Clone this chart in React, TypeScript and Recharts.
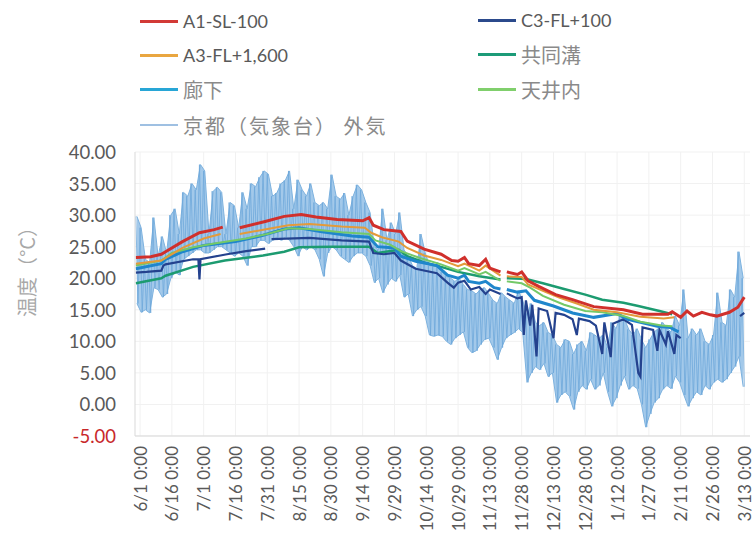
import React from 'react';
import { ComposedChart, Line, Area, XAxis, YAxis, CartesianGrid } from 'recharts';

// ---- axis ticks ----
const X_TICK_DAYS = [0, 15, 30, 45, 60, 75, 90, 105, 120, 135, 150, 165, 180, 195, 210, 225, 240, 255, 270, 285];
const X_TICK_LABELS = [
  '6/1 0:00', '6/16 0:00', '7/1 0:00', '7/16 0:00', '7/31 0:00', '8/15 0:00', '8/30 0:00',
  '9/14 0:00', '9/29 0:00', '10/14 0:00', '10/29 0:00', '11/13 0:00', '11/28 0:00',
  '12/13 0:00', '12/28 0:00', '1/12 0:00', '1/27 0:00', '2/11 0:00', '2/26 0:00', '3/13 0:00',
];
const Y_TICKS = [-5, 0, 5, 10, 15, 20, 25, 30, 35, 40];

// ---- outdoor (京都気象台) daily high / low, one pair every 2 days from day -2 ----
const OUT_START = -2;
const OUT_STEP = 2;
const OUT_HIGH = [
  29.8, 28, 23, 22.5, 29.6, 23.5, 26.6, 24, 30, 31,
  27, 33.6, 33, 35, 34, 38, 37, 27, 33.8, 34.4,
  33.6, 27, 32, 31.5, 28, 33.6, 31, 35, 34.5, 36,
  37, 36.5, 33, 33.5, 35, 35.5, 37, 31, 35.6, 34,
  33, 35, 32, 31.5, 32, 31, 36.4, 33, 32.5, 33.5,
  30, 33, 34.8, 34, 32, 30.4, 25, 24.5, 31, 26,
  28.8, 27, 30.4, 24.5, 23.5, 22, 21.5, 27, 24, 22,
  21.9, 22.5, 21, 20.3, 20, 19.5, 20, 19, 18.2, 18,
  17.5, 18.2, 18.5, 17.5, 16.5, 16, 17.7, 17, 16.5, 16,
  18, 16.5, 14, 16, 13, 12.5, 13, 11.4, 11, 9.5,
  9, 10.3, 10, 8, 9.5, 10, 8.5, 11.4, 11, 10.5,
  11, 9, 13, 12, 14, 13.5, 11.9, 11, 12, 10.3,
  9, 10.3, 11.5, 12, 13, 12, 11.5, 14, 12.5, 18.2,
  10.5, 12, 11, 12, 10, 9.5, 11, 17.7, 13, 12.5,
  18.2, 17, 24.2, 20,
];
const OUT_LOW = [
  16, 14.6, 15, 14.5, 18.5, 18.2, 17, 17.5, 20, 21,
  20.5, 23, 23.5, 24, 24.5, 24.5, 24, 24, 24.5, 25,
  25, 24.5, 24, 23.5, 24, 23.5, 22, 25, 25, 26,
  26, 25.5, 26, 26.5, 26, 26.5, 26, 25, 23.5, 25,
  24.5, 25, 24.5, 23, 20.3, 24, 25, 24.5, 23.5, 23,
  22.5, 23.5, 24, 24, 23.5, 22, 19.3, 20, 17.7, 19,
  20, 19.5, 20.5, 17, 17.5, 14, 15, 15.5, 14, 11,
  10.8, 11, 10.8, 10, 9.5, 10.5, 11, 11.5, 9, 8.2,
  8.5, 9.5, 10.3, 10.5, 9, 7.1, 9, 10.5, 11, 11.4,
  12, 11.4, 3.5, 5, 6, 5.5, 6.5, 4.4, 5, 0.3,
  1.5, 2, 1.3, -0.8, 2, 3, 2.4, 4, 2.4, 3,
  5, 2, -0.3, 1, 3, 4.5, 2.4, 3, 2.5, 0,
  -3.6, -1.5, 0.3, 1, 2.4, 3, 2.5, 4.5, 3.5, 1.5,
  -0.3, 1, 2, 1.5, 3, 2.4, 3.5, 4, 3.5, 4,
  5, 6, 7.6, 2.8,
];

// ---- indoor series: [day index from 6/1, temperature] (null = gap) ----
type Pt = [number, number | null];

const A1_SL_100: Pt[] = [
  [-2, 23.3], [5, 23.4], [10, 23.8], [12, 24.2], [20, 25.8], [28, 27.2], [35, 27.7], [39, 28.1],
  [40, null], [47, 28.0], [59, 29.0], [68, 29.8], [76, 30.1], [83, 29.7], [93, 29.3], [105, 29.1],
  [108, 29.6], [110, 28.4], [115, 27.7], [123, 27.4], [126, 25.9], [134, 24.6], [142, 23.8],
  [147, 22.8], [150, 22.7], [153, 23.3], [155, 22.3], [160, 22.0], [163, 23.0], [165, 21.6],
  [170, 21.0], [171, null], [173, 21.0], [178, 20.6], [180, 21.0], [183, 19.6], [188, 18.7],
  [196, 17.4], [204, 16.6], [214, 15.5], [228, 15.0], [237, 14.3], [249, 14.3], [251, 14.7],
  [255, 13.8], [258, 14.8], [261, 14.0], [265, 14.6], [269, 14.2], [272, 14.0], [278, 14.6],
  [282, 15.4], [285, 17.0],
];

const A3_FL_1600: Pt[] = [
  [-2, 22.3], [10, 22.8], [20, 24.8], [30, 26.3], [38, 27.0], [39, null], [47, 27.0], [60, 27.8],
  [70, 28.4], [80, 28.6], [95, 28.2], [106, 28.0], [109, 27.2], [114, 26.5], [122, 25.8],
  [126, 24.8], [134, 23.6], [142, 22.9], [150, 21.9], [153, 22.3], [160, 21.2], [163, 22.0],
  [170, 20.4], [171, null], [173, 20.3], [180, 20.2], [183, 19.0], [190, 18.0], [198, 16.9],
  [206, 16.0], [214, 15.0], [225, 14.6], [236, 13.9], [247, 13.6], [252, 13.8],
];

const KYODOKO: Pt[] = [
  [-2, 19.2], [10, 20.0], [12, 20.4], [25, 21.8], [40, 22.8], [58, 23.6], [68, 24.2], [75, 24.9],
  [90, 25.0], [108, 25.0], [112, 24.0], [122, 24.5], [126, 23.5], [134, 22.5], [142, 21.8],
  [150, 21.0], [160, 20.3], [170, 19.8], [171, null], [173, 20.0], [180, 19.9], [183, 19.8],
  [190, 19.2], [200, 18.3], [210, 17.4], [218, 16.6], [228, 16.1], [235, 15.6], [245, 14.8],
  [251, 14.3],
];

const ROKA: Pt[] = [
  [-2, 21.5], [10, 22.3], [12, 23.0], [20, 24.2], [30, 25.2], [45, 25.8], [58, 26.8], [68, 27.8],
  [75, 28.0], [85, 27.4], [100, 26.7], [108, 26.5], [112, 25.0], [120, 24.8], [123, 23.5],
  [130, 22.7], [140, 22.0], [145, 20.5], [150, 20.0], [153, 20.5], [155, 19.5], [160, 19.2],
  [163, 19.5], [167, 18.5], [170, 18.3], [171, null], [173, 18.2], [178, 17.8], [182, 18.0],
  [186, 16.5], [195, 15.6], [204, 14.5], [214, 13.8], [225, 14.4], [230, 13.5], [236, 13.0],
  [244, 12.4], [250, 12.2], [254, 11.5],
];

const TENJONAI: Pt[] = [
  [-2, 22.0], [10, 22.8], [15, 24.0], [25, 24.9], [35, 25.5], [50, 26.3], [60, 27.0], [70, 27.9],
  [80, 27.8], [95, 27.3], [108, 27.0], [111, 26.0], [118, 25.3], [123, 24.3], [132, 23.2],
  [142, 22.2], [150, 21.2], [153, 21.6], [160, 20.6], [163, 21.0], [170, 19.6], [171, null],
  [173, 19.5], [180, 19.2], [184, 18.5], [190, 17.2], [200, 15.8], [210, 14.8], [218, 14.6],
  [228, 14.0], [236, 13.1], [246, 12.5], [251, 12.4],
];

const C3_FL_100: Pt[] = [
  [-2, 20.9], [3, 21.0], [10, 21.2], [11, 22.0], [12, 22.2], [25, 23.0], [27.5, 23.0], [28, 19.8],
  [28.5, 23.0], [41, 23.8], [50, 24.3], [59, 24.7], [60, null], [62, 26.2], [80, 26.4], [95, 26.0],
  [108, 25.8], [110, 24.0], [115, 23.8], [120, 24.0], [123, 22.8], [130, 21.5], [140, 20.8],
  [145, 19.3], [148, 18.5], [150, 19.3], [153, 19.6], [156, 18.2], [160, 18.6], [163, 17.5],
  [165, 18.2], [170, 17.5], [171, null], [173, 17.6], [178, 16.8], [180, 17.0], [181, 11.0],
  [182, 16.5], [184, 12.5], [185, 15.8], [187, 7.6], [188, 15.2], [192, 14.8], [195, 10.5],
  [196, 14.5], [200, 14.2], [204, 13.5], [206, 11.0], [207, 13.6], [212, 13.2], [215, 12.5],
  [218, 8.0], [219, 13.0], [222, 7.5], [223, 12.8], [228, 13.5], [232, 12.6], [235, 5.0],
  [236, 4.4], [237, 12.2], [242, 11.8], [244, 8.5], [245, 11.8], [248, 9.5], [249, 11.6],
  [252, 8.0], [253, 11.0], [255, 10.5], [256, null], [283, 14.0], [285, 14.5],
];

const SERIES_NAMES = ['A1-SL-100', 'C3-FL+100', 'A3-FL+1,600', '共同溝', '廊下', '天井内', '京都（気象台） 外気'];
const LEGEND_COLORS = ['#d23a36', '#2b4a8c', '#e9a640', '#1c9b78', '#28a6d6', '#80cf6c', '#9fc0e2'];

const toRows = (pts: Pt[]) => pts.map(([d, v]) => ({ d, v }));
// daily range band (low..high) and a zig-zag trace through the same readings
const outdoorRange = OUT_HIGH.map((h, i) => ({ d: OUT_START + i * OUT_STEP + 0.5, range: [OUT_LOW[i], h] }));
const outdoorRows = OUT_HIGH.flatMap((h, i) => [
  { d: OUT_START + i * OUT_STEP, v: h },
  { d: OUT_START + i * OUT_STEP + 1, v: OUT_LOW[i] },
]);

const FONT = 'Lato, "Noto Sans CJK JP", sans-serif';
const CJK = '"Noto Sans CJK JP", Lato, sans-serif';

const XTick = (props: any) => {
  const { x, payload } = props;
  const idx = X_TICK_DAYS.indexOf(payload.value);
  return (
    <g transform={`translate(${x},446)`}>
      <text transform="rotate(-90)" textAnchor="end" dominantBaseline="central" fontSize={17}
        fontFamily={FONT} fill="#595959">{X_TICK_LABELS[idx]}</text>
    </g>
  );
};

const YTick = (props: any) => {
  const { x, y, payload } = props;
  const v = payload.value as number;
  return (
    <text x={x} y={y} textAnchor="end" dominantBaseline="central" fontSize={18.5}
      fontFamily={FONT} fill={v === -5 ? '#c8282a' : '#595959'}>{v.toFixed(2)}</text>
  );
};

const LEGEND_POS = [
  { x: 140, y: 21 }, { x: 478, y: 20 },
  { x: 140, y: 55 }, { x: 478, y: 54 },
  { x: 140, y: 89 }, { x: 478, y: 89 },
  { x: 140, y: 125 },
];

export default function App() {
  return (
    <div style={{ position: 'absolute', left: 0, top: 0, width: 754, height: 536, background: '#fff', overflow: 'hidden' }}>
      {SERIES_NAMES.map((name, i) => {
        const p = LEGEND_POS[i];
        const isCjk = /[^\x00-\x7f]/.test(name);
        return (
          <div key={name} style={{ position: 'absolute', left: p.x, top: p.y - 14, height: 28, display: 'flex', alignItems: 'center', whiteSpace: 'nowrap' }}>
            <div style={{ width: 38, height: i === 6 ? 2 : 3, background: LEGEND_COLORS[i], marginRight: 5 }} />
            <span style={{ fontFamily: isCjk ? CJK : FONT, fontSize: isCjk ? 20 : 18, color: isCjk ? '#8a8a8a' : '#595959', letterSpacing: i === 6 ? 2 : 0 }}>{name}</span>
          </div>
        );
      })}
      <div style={{ position: 'absolute', left: 26, top: 267, transform: 'translate(-50%,-50%) rotate(-90deg)', fontFamily: CJK, fontSize: 20, color: '#a8a8a8', whiteSpace: 'nowrap' }}>
        温度（°C）
      </div>
      <ComposedChart width={754} height={536} data={outdoorRange} margin={{ top: 152, right: 4, left: 0, bottom: 0 }}>
        <CartesianGrid stroke="#f1f1f1" verticalValues={X_TICK_DAYS} horizontalValues={Y_TICKS} />
        <XAxis type="number" dataKey="d" domain={[-2.4, 287.7]} ticks={X_TICK_DAYS} interval={0}
          allowDataOverflow tickLine={false} height={100} tick={<XTick />} stroke="#d9d9d9" />
        <YAxis type="number" domain={[-5, 40]} ticks={Y_TICKS} interval={0} width={135}
          tickLine={false} tickSize={6} tickMargin={13} tick={<YTick />} stroke="#d9d9d9" allowDataOverflow />
        <Area dataKey="range" name={SERIES_NAMES[6]} type="linear" fill="#a3c9ea" fillOpacity={1}
          stroke="#7db2df" strokeWidth={1} isAnimationActive={false} />
        <Line data={outdoorRows} dataKey="v" name={SERIES_NAMES[6]} stroke="#6fa8db" strokeWidth={0.8}
          dot={false} isAnimationActive={false} type="linear" />
        <Line data={toRows(KYODOKO)} dataKey="v" name={SERIES_NAMES[3]} stroke="#1c9b70" strokeWidth={2.5}
          dot={false} isAnimationActive={false} type="linear" />
        <Line data={toRows(C3_FL_100)} dataKey="v" name={SERIES_NAMES[1]} stroke="#24428e" strokeWidth={2.2}
          dot={false} isAnimationActive={false} type="linear" />
        <Line data={toRows(ROKA)} dataKey="v" name={SERIES_NAMES[4]} stroke="#1f86cc" strokeWidth={3}
          dot={false} isAnimationActive={false} type="linear" />
        <Line data={toRows(TENJONAI)} dataKey="v" name={SERIES_NAMES[5]} stroke="#74c968" strokeWidth={2}
          dot={false} isAnimationActive={false} type="linear" />
        <Line data={toRows(A3_FL_1600)} dataKey="v" name={SERIES_NAMES[2]} stroke="#e39a3a" strokeWidth={2}
          dot={false} isAnimationActive={false} type="linear" />
        <Line data={toRows(A1_SL_100)} dataKey="v" name={SERIES_NAMES[0]} stroke="#d0302c" strokeWidth={3}
          dot={false} isAnimationActive={false} type="linear" />
      </ComposedChart>
    </div>
  );
}
